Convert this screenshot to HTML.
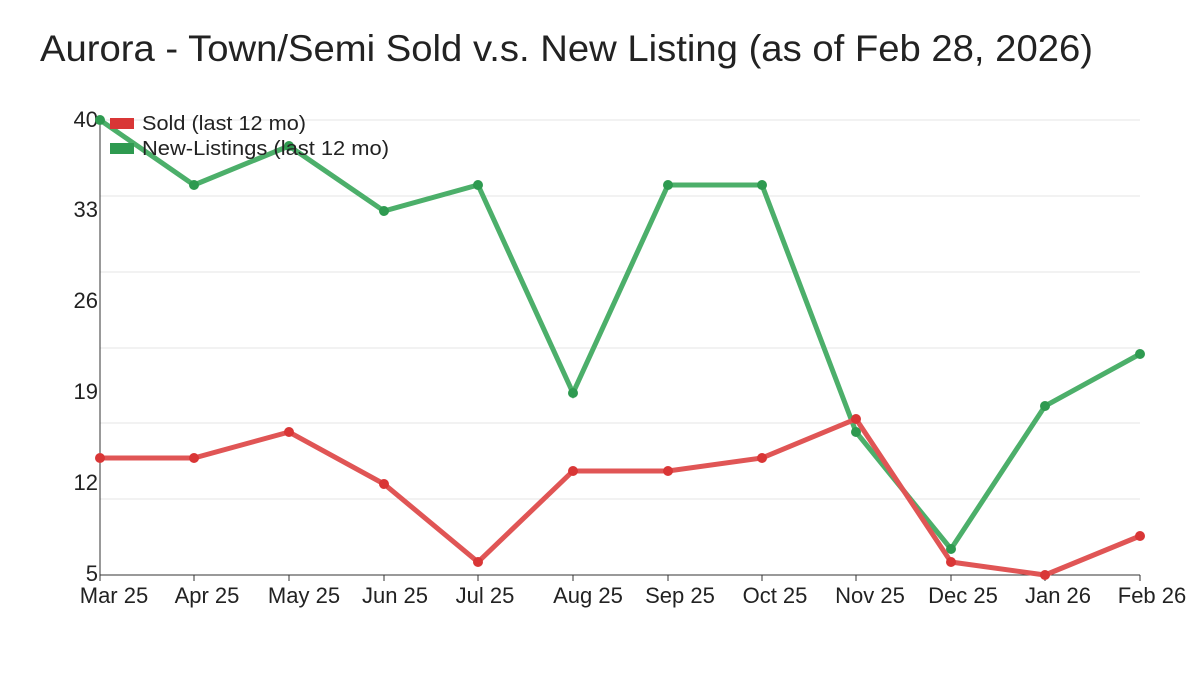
<!DOCTYPE html>
<html><head><meta charset="utf-8"><style>
body{margin:0;background:#fff;}
svg text{font-family:"Liberation Sans",sans-serif;fill:#222;}
</style></head><body>
<svg width="1200" height="675" xmlns="http://www.w3.org/2000/svg">
<rect width="1200" height="675" fill="#fff"/>
<text x="40" y="61" font-size="37" textLength="1053" lengthAdjust="spacingAndGlyphs">Aurora - Town/Semi Sold v.s. New Listing (as of Feb 28, 2026)</text>
<g stroke="#e4e4e4" stroke-width="1">
<line x1="100" x2="1140" y1="120" y2="120"/><line x1="100" x2="1140" y1="196" y2="196"/>
<line x1="100" x2="1140" y1="272" y2="272"/><line x1="100" x2="1140" y1="348" y2="348"/>
<line x1="100" x2="1140" y1="423" y2="423"/><line x1="100" x2="1140" y1="499" y2="499"/>
</g>
<line x1="100" x2="100" y1="120" y2="575" stroke="#333"/>
<line x1="100" x2="1140" y1="575" y2="575" stroke="#333"/>
<g font-size="22" text-anchor="end">
<text x="98" y="127">40</text><text x="98" y="217">33</text><text x="98" y="308">26</text>
<text x="98" y="399">19</text><text x="98" y="490">12</text><text x="98" y="581">5</text>
</g>
<g stroke="#333"><line x1="100" x2="100" y1="575" y2="581"/><line x1="194" x2="194" y1="575" y2="581"/><line x1="289" x2="289" y1="575" y2="581"/><line x1="384" x2="384" y1="575" y2="581"/><line x1="478" x2="478" y1="575" y2="581"/><line x1="573" x2="573" y1="575" y2="581"/><line x1="668" x2="668" y1="575" y2="581"/><line x1="762" x2="762" y1="575" y2="581"/><line x1="856" x2="856" y1="575" y2="581"/><line x1="951" x2="951" y1="575" y2="581"/><line x1="1045" x2="1045" y1="575" y2="581"/><line x1="1140" x2="1140" y1="575" y2="581"/></g>
<g font-size="22" text-anchor="middle">
<text x="114" y="603">Mar 25</text><text x="207" y="603">Apr 25</text><text x="304" y="603">May 25</text>
<text x="395" y="603">Jun 25</text><text x="485" y="603">Jul 25</text><text x="588" y="603">Aug 25</text>
<text x="680" y="603">Sep 25</text><text x="775" y="603">Oct 25</text><text x="870" y="603">Nov 25</text>
<text x="963" y="603">Dec 25</text><text x="1058" y="603">Jan 26</text><text x="1152" y="603">Feb 26</text>
</g>
<polyline fill="none" stroke="#4caf6a" stroke-width="5" points="100,120 194,185 289,146 384,211 478,185 573,393 668,185 762,185 856,432 951,549 1045,406 1140,354"/>
<g fill="#2e9a50"><circle cx="100" cy="120" r="5"/><circle cx="194" cy="185" r="5"/><circle cx="289" cy="146" r="5"/><circle cx="384" cy="211" r="5"/><circle cx="478" cy="185" r="5"/><circle cx="573" cy="393" r="5"/><circle cx="668" cy="185" r="5"/><circle cx="762" cy="185" r="5"/><circle cx="856" cy="432" r="5"/><circle cx="951" cy="549" r="5"/><circle cx="1045" cy="406" r="5"/><circle cx="1140" cy="354" r="5"/></g>
<polyline fill="none" stroke="#e05555" stroke-width="5" points="100,458 194,458 289,432 384,484 478,562 573,471 668,471 762,458 856,419 951,562 1045,575 1140,536"/>
<g fill="#d93636"><circle cx="100" cy="458" r="5"/><circle cx="194" cy="458" r="5"/><circle cx="289" cy="432" r="5"/><circle cx="384" cy="484" r="5"/><circle cx="478" cy="562" r="5"/><circle cx="573" cy="471" r="5"/><circle cx="668" cy="471" r="5"/><circle cx="762" cy="458" r="5"/><circle cx="856" cy="419" r="5"/><circle cx="951" cy="562" r="5"/><circle cx="1045" cy="575" r="5"/><circle cx="1140" cy="536" r="5"/></g>
<rect x="110" y="118" width="24" height="11" fill="#d93636"/>
<text x="142" y="130" font-size="20" textLength="164" lengthAdjust="spacingAndGlyphs">Sold (last 12 mo)</text>
<rect x="110" y="143" width="24" height="11" fill="#2e9a50"/>
<text x="142" y="155" font-size="20" textLength="247" lengthAdjust="spacingAndGlyphs">New-Listings (last 12 mo)</text>
</svg>
</body></html>
